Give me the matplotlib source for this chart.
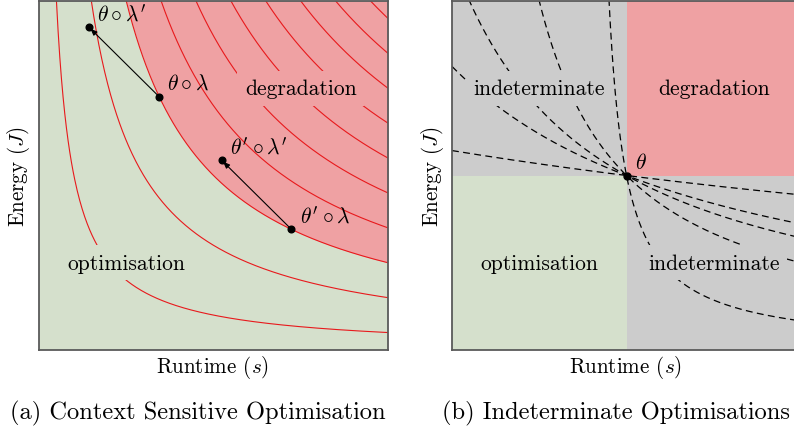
import numpy as np
import matplotlib
matplotlib.use("Agg")
import matplotlib.pyplot as plt

plt.rcParams['font.family'] = ['cmr10', 'DejaVu Serif']
plt.rcParams['mathtext.fontset'] = 'cm'
plt.rcParams['axes.unicode_minus'] = False

# ---------------- data ----------------
# (a) iso-cost contours  runtime * energy = level
contour_levels = [0.05, 0.15, 0.25, 0.35, 0.45, 0.55, 0.65, 0.75, 0.85, 0.95]
boundary_level = 0.25
points_a_names = [r"$\theta \circ \lambda'$", r"$\theta \circ \lambda$",
                  r"$\theta' \circ \lambda'$", r"$\theta' \circ \lambda$"]
points_a_x = [0.143, 0.344, 0.523, 0.722]
points_a_y = [0.925, 0.726, 0.544, 0.347]
arrows_a = [(1, 0), (3, 2)]          # (from index, to index)
label_a_x = [0.166, 0.367, 0.547, 0.748]
label_a_y = [0.966, 0.765, 0.585, 0.387]

# (b) reference configuration and family of trade-off curves through it
theta_xy = (0.5, 0.5)
curve_offsets = [3.5, 0.8, 0.4, 0.0, -0.4]   # (x + a) * y = const through theta

region_labels_pos = {"degradation": (0.75, 0.75), "optimisation": (0.25, 0.25)}

# ---------------- style ----------------
GREEN = "#d5e0cc"
RED = "#efa1a3"
GRAY = "#cccccc"
LINE_RED = "#e8191c"
SPINE = "#5a5a5a"

W, H = 794, 435
fig = plt.figure(figsize=(W / 100, H / 100), dpi=100)
axw, axh = 349 / W, 349 / H
ax1 = fig.add_axes([39 / W, 84 / H, axw, axh])
ax2 = fig.add_axes([452 / W, 84 / H, axw, axh])

for ax in (ax1, ax2):
    ax.set_xlim(0, 1)
    ax.set_ylim(0, 1)
    ax.set_xticks([])
    ax.set_yticks([])
    for s in ax.spines.values():
        s.set_color(SPINE)
        s.set_linewidth(1.3)
        s.set_zorder(10)

LBL = 15.5

# ---------------- panel (a) ----------------
ax1.set_facecolor(GREEN)
xf = np.linspace(boundary_level, 1, 400)
ax1.fill_between(xf, boundary_level / xf, 1, color=RED, lw=0, zorder=1)
for c in contour_levels:
    x = np.linspace(c, 1, 400)
    ax1.plot(x, c / x, color=LINE_RED, lw=0.8, zorder=2)

for i, j in arrows_a:
    ax1.annotate("", xy=(points_a_x[j], points_a_y[j]),
                 xytext=(points_a_x[i], points_a_y[i]),
                 arrowprops=dict(arrowstyle="-|>,head_length=0.4,head_width=0.16",
                                 color="black", lw=0.8, shrinkA=0, shrinkB=1.5),
                 zorder=4)
ax1.plot(points_a_x, points_a_y, 'o', color='black', ms=4.8, zorder=5)
for name, lx, ly in zip(points_a_names, label_a_x, label_a_y):
    ax1.text(lx, ly, name, fontsize=LBL, va='center', ha='left', zorder=6)

bb = dict(boxstyle="square,pad=0.35", lw=0)
ax1.text(*region_labels_pos["degradation"], "degradation", fontsize=LBL,
         ha='center', va='center', bbox=dict(bb, fc=RED), zorder=6)
ax1.text(*region_labels_pos["optimisation"], "optimisation", fontsize=LBL,
         ha='center', va='center', bbox=dict(bb, fc=GREEN), zorder=6)

# ---------------- panel (b) ----------------
tx, ty = theta_xy
ax2.set_facecolor(GRAY)
ax2.fill_between([0, tx], 0, ty, color=GREEN, lw=0, zorder=1)
ax2.fill_between([tx, 1], ty, 1, color=RED, lw=0, zorder=1)
for a in curve_offsets:
    k = ty * (tx + a)
    xmin = max(0.0, k / 1.1 - a)
    x = np.linspace(xmin, 1, 600)
    ax2.plot(x, k / (x + a), color='black', lw=0.9, dashes=(5.5, 3.5), zorder=2)
ax2.plot([tx], [ty], 'o', color='black', ms=5, zorder=5)
ax2.text(tx + 0.024, ty + 0.04, r"$\theta$", fontsize=LBL, ha='left', va='center', zorder=6)

ax2.text(0.25, 0.75, "indeterminate", fontsize=LBL, ha='center', va='center',
         bbox=dict(bb, fc=GRAY), zorder=6)
ax2.text(0.75, 0.25, "indeterminate", fontsize=LBL, ha='center', va='center',
         bbox=dict(bb, fc=GRAY), zorder=6)
ax2.text(*region_labels_pos["degradation"], "degradation", fontsize=LBL,
         ha='center', va='center', zorder=6)
ax2.text(*region_labels_pos["optimisation"], "optimisation", fontsize=LBL,
         ha='center', va='center', zorder=6)

# ---------------- axis labels & captions ----------------
AXL = 15.2
for x0 in (39, 452):
    fig.text((x0 + 174) / W, 1 - 368 / H, r"Runtime ($s$)", fontsize=AXL,
             ha='center', va='center')
fig.text(19 / W, 1 - 177 / H, r"Energy ($J$)", fontsize=AXL, rotation=90,
         ha='center', va='center')
fig.text(433 / W, 1 - 177 / H, r"Energy ($J$)", fontsize=AXL, rotation=90,
         ha='center', va='center')
fig.text(198 / W, 1 - 413 / H, "(a) Context Sensitive Optimisation", fontsize=17.6,
         ha='center', va='center')
fig.text(616 / W, 1 - 413 / H, "(b) Indeterminate Optimisations", fontsize=17.6,
         ha='center', va='center')

fig.savefig("out.png", dpi=100)
